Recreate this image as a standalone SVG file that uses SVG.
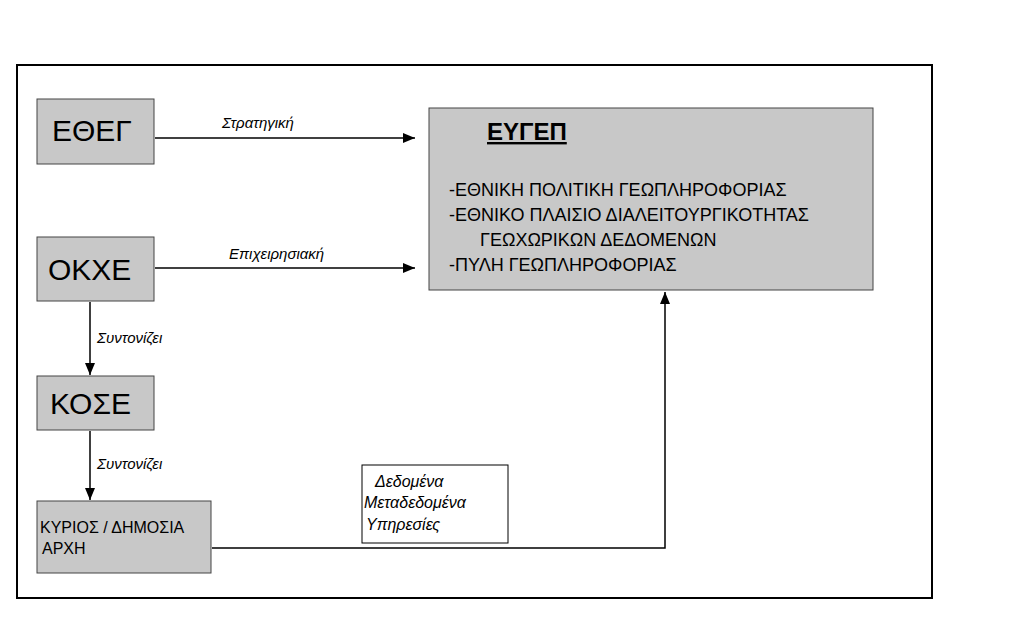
<svg xmlns="http://www.w3.org/2000/svg" width="1024" height="619" viewBox="0 0 1024 619">
<defs>
<marker id="ah" markerWidth="12" markerHeight="10" refX="12" refY="5" orient="auto" markerUnits="userSpaceOnUse"><path d="M0,0 L12,5 L0,10 Z" fill="#000"/></marker>
<style>
.n{fill:#c8c8c8;stroke:#444;stroke-width:1}
text{font-family:"Liberation Sans",Arial,sans-serif;fill:#000}
.big{font-size:30px}
.it{font-style:italic;font-size:15px}
.l{font-size:18px}
.c{stroke:#000;stroke-width:1.5;fill:none;marker-end:url(#ah)}
</style>
</defs>
<rect width="1024" height="619" fill="#fff"/>
<rect x="17" y="65" width="915" height="533" fill="none" stroke="#000" stroke-width="2"/>
<g id="ethegr"><rect class="n" x="37" y="99" width="117" height="65"/><text class="big" x="52" y="141">ΕΘΕΓ</text></g>
<g id="okxe"><rect class="n" x="37" y="237" width="117" height="64"/><text class="big" x="48" y="280">ΟΚΧΕ</text></g>
<g id="kose"><rect class="n" x="37" y="376" width="117" height="54"/><text class="big" x="50" y="414">ΚΟΣΕ</text></g>
<g id="kyrios"><rect class="n" x="37" y="501" width="174" height="72"/><text x="40" y="533" font-size="16">ΚΥΡΙΟΣ / ΔΗΜΟΣΙΑ</text><text x="42" y="554" font-size="16">ΑΡΧΗ</text></g>
<g id="eygep"><rect class="n" x="429" y="108" width="444" height="182"/>
<text x="487" y="140" font-size="24" font-weight="bold" text-decoration="underline">ΕΥΓΕΠ</text>
<text class="l" x="449" y="196">-ΕΘΝΙΚΗ ΠΟΛΙΤΙΚΗ ΓΕΩΠΛΗΡΟΦΟΡΙΑΣ</text>
<text class="l" x="449" y="221">-ΕΘΝΙΚΟ ΠΛΑΙΣΙΟ ΔΙΑΛΕΙΤΟΥΡΓΙΚΟΤΗΤΑΣ</text>
<text class="l" x="480" y="246">ΓΕΩΧΩΡΙΚΩΝ ΔΕΔΟΜΕΝΩΝ</text>
<text class="l" x="449" y="271">-ΠΥΛΗ ΓΕΩΠΛΗΡΟΦΟΡΙΑΣ</text></g>
<g id="data"><rect x="362" y="465" width="146" height="78" fill="#fff" stroke="#000"/>
<text x="375" y="487" font-size="16" font-style="italic">Δεδομένα</text>
<text x="364" y="508" font-size="16" font-style="italic">Μεταδεδομένα</text>
<text x="366" y="530" font-size="16" font-style="italic">Υπηρεσίες</text></g>
<g id="connectors">
<path class="c" d="M155,138 H415"/>
<path class="c" d="M155,268 H415"/>
<path class="c" d="M90,302 V375"/>
<path class="c" d="M90,431 V500"/>
<path class="c" d="M212,548 H665 V292"/>
<text class="it" x="222" y="128">Στρατηγική</text>
<text class="it" x="229" y="259">Επιχειρησιακή</text>
<text class="it" x="97" y="343">Συντονίζει</text>
<text class="it" x="97" y="469">Συντονίζει</text>
</g>
</svg>
